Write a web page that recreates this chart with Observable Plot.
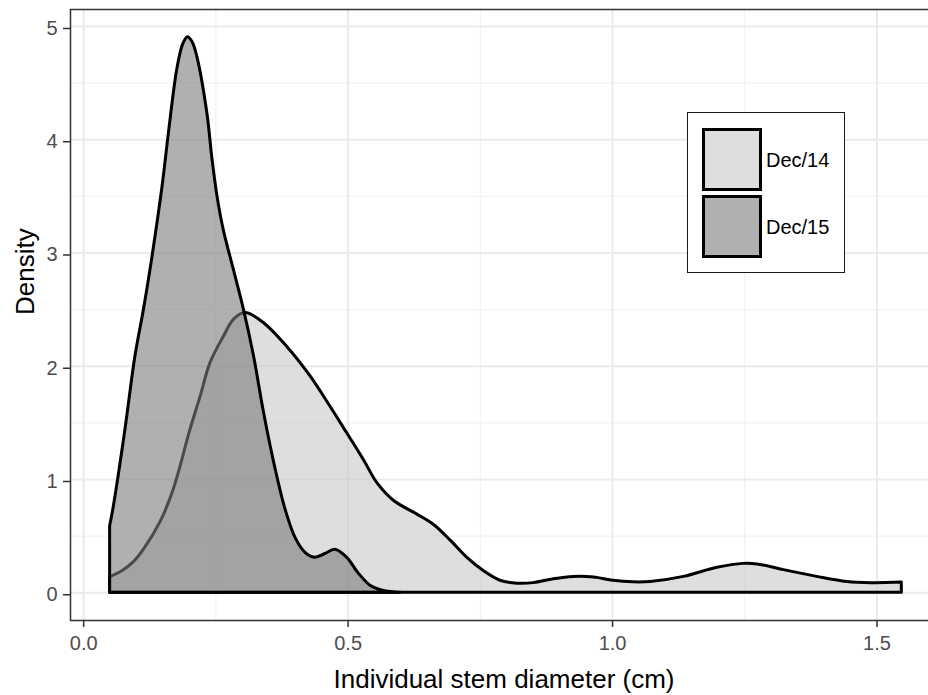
<!DOCTYPE html>
<html><head><meta charset="utf-8">
<script src="https://cdn.jsdelivr.net/npm/d3@7"></script>
<script src="https://cdn.jsdelivr.net/npm/@observablehq/plot@0.6"></script>
<style>
html,body{margin:0;padding:0;background:#fff;}
#wrap{position:relative;width:928px;height:695px;overflow:hidden;font-family:"Liberation Sans",Arial,sans-serif;}
#legend{position:absolute;left:687px;top:112px;width:158px;height:161px;border:1.5px solid #1a1a1a;background:#fff;box-sizing:border-box;}
.key{position:absolute;left:14px;width:60px;height:63px;border:3px solid #000;box-sizing:border-box;}
.lab{position:absolute;left:78px;font-size:20px;line-height:24px;color:#000;}
</style></head>
<body><div id="wrap"></div>
<script>
const groups = ["Dec/14", "Dec/15"];
const groupColors = ["#c8c8c8", "#7b7b7b"];
const xTicks = [0, 0.5, 1.0, 1.5];
const xMinor = [0.25, 0.75, 1.25];
const yTicks = [0, 1, 2, 3, 4, 5];
const yMinor = [0.5, 1.5, 2.5, 3.5, 4.5];

const dec14X = [0.05,0.073,0.095,0.114,0.146,0.171,0.202,0.221,0.240,0.265,0.284,0.306,0.341,0.385,0.429,0.467,0.498,0.530,0.555,0.587,0.631,0.662,0.694,0.725,0.757,0.788,0.820,0.851,0.889,0.927,0.965,1.002,1.040,1.072,1.135,1.198,1.248,1.274,1.324,1.387,1.444,1.490,1.547];
const dec14Y = [0.138,0.19,0.27,0.38,0.63,0.92,1.44,1.73,2.03,2.26,2.41,2.47,2.38,2.17,1.91,1.64,1.41,1.17,0.97,0.81,0.69,0.60,0.46,0.31,0.19,0.106,0.08,0.085,0.12,0.14,0.135,0.105,0.092,0.095,0.14,0.22,0.255,0.25,0.20,0.14,0.095,0.085,0.09];

const dec15X = [0.05,0.057,0.079,0.098,0.114,0.127,0.149,0.161,0.177,0.188,0.197,0.206,0.215,0.234,0.243,0.253,0.265,0.284,0.303,0.322,0.341,0.363,0.382,0.401,0.420,0.437,0.456,0.476,0.498,0.520,0.543,0.568,0.59,0.60];
const dec15Y = [0.585,0.76,1.44,2.09,2.50,2.87,3.58,4.05,4.62,4.84,4.905,4.86,4.73,4.23,3.85,3.50,3.20,2.85,2.50,2.09,1.59,1.09,0.73,0.48,0.35,0.31,0.34,0.38,0.31,0.17,0.06,0.015,0.003,0.0];

const rows14 = dec14X.map((x, i) => ({x, y: dec14Y[i], group: groups[0]}));
const rows15 = dec15X.map((x, i) => ({x, y: dec15Y[i], group: groups[1]}));

const areaOpts = {x: "x", y: "y", fill: "group", fillOpacity: 0.6, stroke: "black", strokeWidth: 3, strokeLinejoin: "round", curve: "catmull-rom"};

const chart = Plot.plot({
  width: 946, height: 695,
  marginLeft: 70, marginRight: 5, marginTop: 9, marginBottom: 75,
  style: {fontFamily: "Liberation Sans, Arial, sans-serif", background: "white", maxWidth: "none"},
  x: {domain: [-0.0249, 1.622]},
  y: {domain: [-0.245, 5.15]},
  color: {domain: groups, range: groupColors},
  marks: [
    Plot.ruleX(xMinor, {stroke: "#f2f2f2", strokeWidth: 1.2}),
    Plot.ruleY(yMinor, {stroke: "#f2f2f2", strokeWidth: 1.2}),
    Plot.ruleX(xTicks, {stroke: "#ebebeb", strokeWidth: 2}),
    Plot.ruleY(yTicks, {stroke: "#ebebeb", strokeWidth: 2}),
    Plot.areaY(rows14, areaOpts),
    Plot.areaY(rows15, areaOpts),
    Plot.frame({stroke: "#333333", strokeWidth: 1.5}),
    Plot.axisX(xTicks, {tickFormat: d => d.toFixed(1), fontSize: 20, tickSize: 7, tickPadding: 8, fill: "#4d4d4d", stroke: "#333333", strokeWidth: 1.5, label: null}),
    Plot.axisY(yTicks, {tickFormat: d => String(d), fontSize: 20, tickSize: 7, tickPadding: 6, dy: 2, fill: "#4d4d4d", stroke: "#333333", strokeWidth: 1.5, label: null}),
    Plot.text(["Individual stem diameter (cm)"], {text: d => d, frameAnchor: "bottom", lineAnchor: "bottom", dy: 67, dx: -2, fontSize: 26, fill: "black"}),
    Plot.text(["Density"], {text: d => d, frameAnchor: "left", rotate: -90, lineAnchor: "bottom", dx: -37, fontSize: 26, fill: "black"})
  ]
});
const wrap = document.getElementById("wrap");
wrap.appendChild(chart);

const legend = document.createElement("div");
legend.id = "legend";
const keyTops = [15, 82];
groups.forEach((g, i) => {
  const k = document.createElement("div");
  k.className = "key";
  k.style.top = keyTops[i] + "px";
  const c = d3.color(groupColors[i]); c.opacity = 0.6;
  k.style.background = c.toString();
  legend.appendChild(k);
  const l = document.createElement("div");
  l.className = "lab";
  l.textContent = g;
  l.style.top = (keyTops[i] + 31.5 - 12) + "px";
  legend.appendChild(l);
});
wrap.appendChild(legend);
</script>
</body></html>
